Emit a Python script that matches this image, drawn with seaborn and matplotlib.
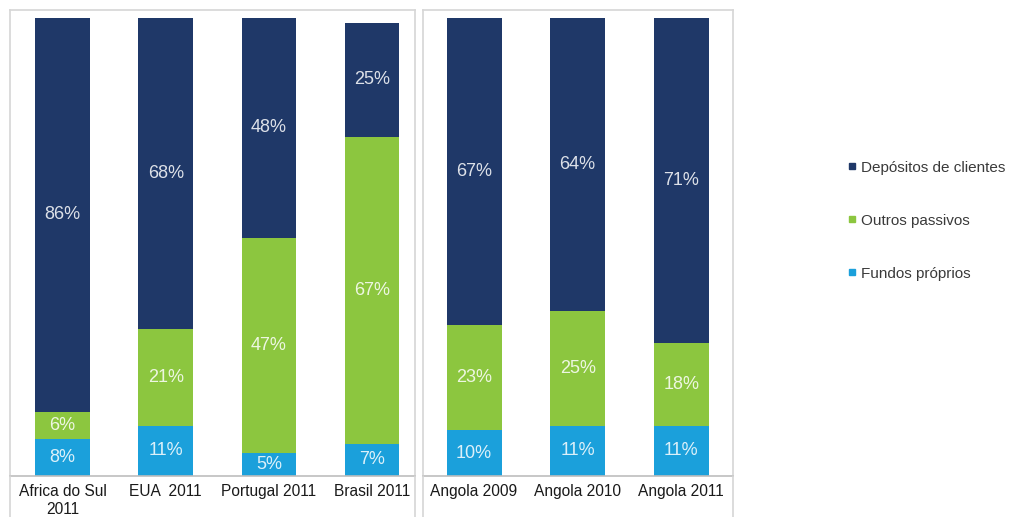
import matplotlib
matplotlib.use("Agg")
import matplotlib.pyplot as plt
import seaborn as sns
import pandas as pd
from matplotlib.lines import Line2D

# Funding structure of banks (share of total liabilities, %)
left_cats = ["Africa do Sul\n2011", "EUA  2011", "Portugal 2011", "Brasil 2011"]
right_cats = ["Angola 2009", "Angola 2010", "Angola 2011"]
series = ["Depósitos de clientes", "Outros passivos", "Fundos próprios"]

left_depositos = [86, 68, 48, 25]
left_outros = [6, 21, 47, 67]
left_fundos = [8, 11, 5, 7]

right_depositos = [67, 64, 71]
right_outros = [23, 25, 18]
right_fundos = [10, 11, 11]

colors = ["#1f3868", "#8cc63f", "#1ba0db"]
frame_color = "#d6d6d6"
base_color = "#bdbdbd"

sns.set_theme(style="white")
plt.rcParams["font.family"] = ["Liberation Sans", "DejaVu Sans"]

W, H = 1011, 517
fig = plt.figure(figsize=(W / 100, H / 100), dpi=100)


def px_axes(x0, x1, y0, y1):
    return fig.add_axes([x0 / W, 1 - y1 / H, (x1 - x0) / W, (y1 - y0) / H])


def stacked_panel(ax, cats, dep, outr, fund, xlim):
    df = pd.DataFrame({"cat": cats, "dep": dep, "out": outr, "fund": fund})
    df["low"] = df["fund"]
    df["mid"] = df["fund"] + df["out"]
    df["top"] = df["mid"] + df["dep"]
    # cumulative heights drawn from tallest to shortest give the stacked look
    for col, c in zip(["top", "mid", "low"], colors):
        sns.barplot(data=df, x="cat", y=col, order=cats, color=c,
                    saturation=1, width=0.53, ax=ax, linewidth=0)
    for i, row in df.iterrows():
        segs = [(0, row["fund"]), (row["low"], row["out"]), (row["mid"], row["dep"])]
        for b, v in segs:
            ax.text(i, b + v / 2, f"{v}%", ha="center", va="center",
                    fontsize=13, color="white", alpha=0.85)
    ax.set_xlim(*xlim)
    ax.set_ylim(0, 101.75)
    ax.set_xlabel("")
    ax.set_ylabel("")
    ax.set_yticks([])
    ax.tick_params(axis="x", length=0, pad=6, labelsize=11.2, colors="#1a1a1a")
    for lab in ax.get_xticklabels():
        lab.set_linespacing(1.25)
    for s in ["top", "left", "right"]:
        ax.spines[s].set_color(frame_color)
        ax.spines[s].set_linewidth(1.2)
    ax.spines["bottom"].set_color(base_color)
    ax.spines["bottom"].set_linewidth(1.2)


ax1 = px_axes(10, 415, 10, 476)
stacked_panel(ax1, left_cats, left_depositos, left_outros, left_fundos, (-0.509, 3.416))

ax2 = px_axes(423, 733, 10, 476)
stacked_panel(ax2, right_cats, right_depositos, right_outros, right_fundos, (-0.493, 2.50))

# side borders of the panels continue below the baseline
for xp in [10, 415, 423, 733]:
    fig.add_artist(Line2D([xp / W, xp / W], [0, 1 - 476 / H],
                          transform=fig.transFigure, color=frame_color, lw=1.2))

handles = [Line2D([], [], marker="s", markersize=4.8, linestyle="none",
                  color=c) for c in colors]
fig.legend(handles, series, loc="upper left",
           bbox_to_anchor=(840 / W, 1 - 153 / H), frameon=False,
           fontsize=11, labelspacing=2.55, handlelength=0.55,
           handletextpad=0.3, borderpad=0, labelcolor="#3a3a3a")

fig.savefig("out.png", dpi=100)
